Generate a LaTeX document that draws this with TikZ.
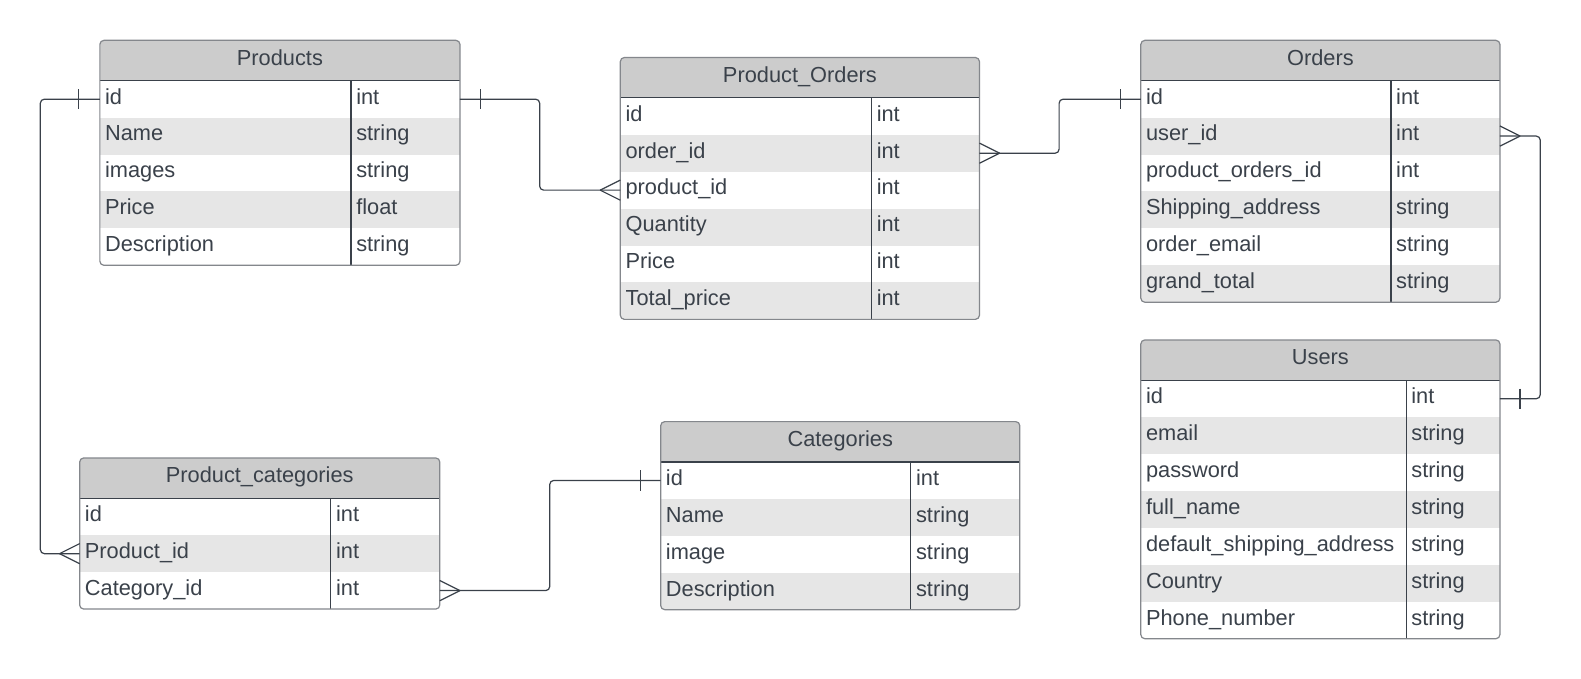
\documentclass[tikz,border=0pt]{standalone}
\usepackage{fontspec}
\setmainfont{Liberation Sans}
\usetikzlibrary{calc}
\definecolor{txt}{HTML}{3A414A}
\definecolor{headgray}{HTML}{CCCCCC}
\definecolor{rowgray}{HTML}{E6E6E6}
\definecolor{bordergray}{HTML}{84878C}
\definecolor{linedark}{HTML}{3A414A}
\tikzset{
  celltext/.style={anchor=base west,inner sep=0pt,text=txt,font=\fontsize{21.6}{26}\selectfont},
  titletext/.style={anchor=base,inner sep=0pt,text=txt,font=\fontsize{21.6}{26}\selectfont},
  tablebox/.style={draw=bordergray,line width=1.2pt,rounded corners=4pt,inner sep=0pt,fill=none},
  rowline/.style={draw=linedark,line width=1.1pt},
  conn/.style={draw=linedark,line width=1.2pt,rounded corners=4pt},
  markline/.style={draw=linedark,line width=1.2pt}
}
% #1 name, #2 left, #3 top, #4 right, #5 divider, #6 title, #7 rows
\newcommand\erdtable[7]{%
  \pgfmathsetmacro\hb{#3+40}%
  \foreach [count=\i] \a/\b in {#7} {\xdef\nrows{\i}}%
  \pgfmathsetmacro\bot{\hb+36.6*\nrows}%
  \begin{scope}
    \clip[rounded corners=4pt] (#2,#3) rectangle (#4,\bot);
    \fill[headgray] (#2,#3) rectangle (#4,\hb);
    \foreach [count=\i] \a/\b in {#7} {%
      \pgfmathsetmacro\ya{\hb+36.6*(\i-1)}%
      \pgfmathsetmacro\yb{\hb+36.6*\i}%
      \pgfmathsetmacro\yc{(\ya+\yb)/2}%
      \ifodd\i\relax\else \fill[rowgray] (#2,\ya) rectangle (#4,\yb);\fi
      \node[celltext] (#1-\i) at (#2+5,\yc+4.8) {\a};
      \node[celltext] (#1-\i-t) at (#5+5,\yc+4.8) {\b};
      \coordinate (#1-\i-w) at (#2,\yc);
      \coordinate (#1-\i-e) at (#4,\yc);
    }
  \end{scope}
  \draw[rowline] (#2,\hb) -- (#4,\hb);
  \draw[rowline] (#5,\hb) -- (#5,\bot);
  \pgfmathsetmacro\w{#4-#2}%
  \pgfmathsetmacro\h{\bot-#3}%
  \node[tablebox,minimum width=\w pt,minimum height=\h pt] (#1) at ({(#2+#4)/2},{(#3+\bot)/2}) {};
  \node[titletext] (#1-title) at ({(#2+#4)/2},{#3+20+4.8}) {#6};
}
% crow's foot: #1 coordinate, #2 signed offset of apex
\newcommand\crowfoot[2]{%
  \draw[markline] ($(#1)+(#2,0)$) -- ($(#1)+(0,-10)$);
  \draw[markline] ($(#1)+(#2,0)$) -- ($(#1)+(0,10)$);
}
\newcommand\onebar[2]{%
  \draw[markline] ($(#1)+(#2,-10)$) -- ($(#1)+(#2,10)$);
}
\begin{document}
\begin{tikzpicture}[x=1pt,y=-1pt]
\useasboundingbox (0,0) rectangle (1567.4,673.1);
\fill[white] (0,0) rectangle (1567.4,673.1);

\erdtable{products}{99}{40}{456}{348}{Products}{id/int,Name/string,images/string,Price/float,Description/string}
\erdtable{porders}{615}{57}{971}{864}{Product\_Orders}{id/int,order\_id/int,product\_id/int,Quantity/int,Price/int,Total\_price/int}
\erdtable{orders}{1131}{40}{1487}{1379}{Orders}{id/int,user\_id/int,product\_orders\_id/int,Shipping\_address/string,order\_email/string,grand\_total/string}
\erdtable{users}{1131}{337}{1487}{1394}{Users}{id/int,email/string,password/string,full\_name/string,default\_shipping\_address/string,Country/string,Phone\_number/string}
\erdtable{pcat}{79}{454}{436}{328}{Product\_categories}{id/int,Product\_id/int,Category\_id/int}
\erdtable{cat}{655}{418}{1011}{903}{Categories}{id/int,Name/string,image/string,Description/string}

% connectors
\draw[conn] (products-1-w) -- ($(products-1-w)+(-59,0)$) |- (pcat-2-w);
\onebar{products-1-w}{-21}
\crowfoot{pcat-2-w}{-20}

\draw[conn] (products-1-e) -- ($(products-1-e)+(79,0)$) |- (porders-3-w);
\onebar{products-1-e}{20}
\crowfoot{porders-3-w}{-20}

\draw[conn] (porders-2-e) -- ($(porders-2-e)+(79,0)$) |- (orders-1-w);
\crowfoot{porders-2-e}{20}
\onebar{orders-1-w}{-20}

\draw[conn] (orders-2-e) -- ($(orders-2-e)+(40,0)$) |- (users-1-e);
\crowfoot{orders-2-e}{20}
\onebar{users-1-e}{20}

\draw[conn] (pcat-3-e) -- ($(pcat-3-e)+(109,0)$) |- (cat-1-w);
\crowfoot{pcat-3-e}{20}
\onebar{cat-1-w}{-20}
\end{tikzpicture}
\end{document}
